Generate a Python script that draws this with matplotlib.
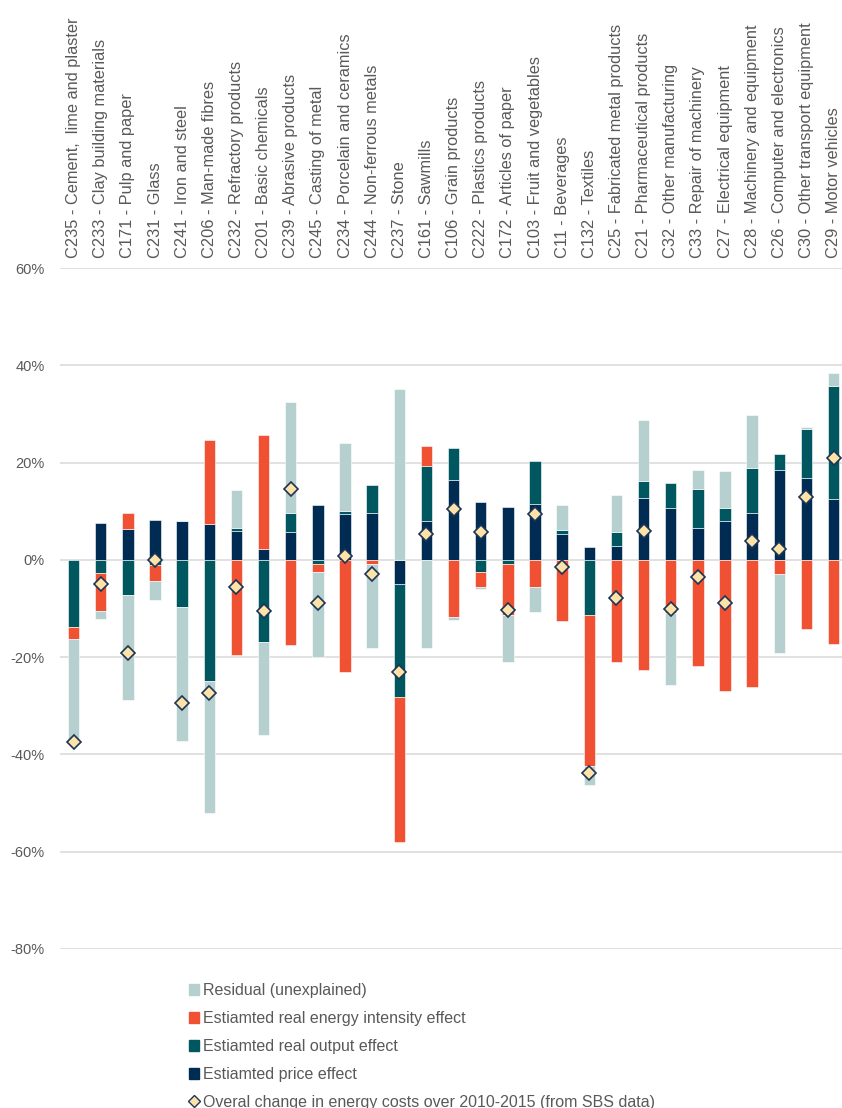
import matplotlib.pyplot as plt
from matplotlib.patches import Patch
from matplotlib.lines import Line2D

# Sectors, ordered from largest fall to largest rise in energy costs
sectors = [
    'C235 - Cement,  lime and plaster', 'C233 - Clay building materials',
    'C171 - Pulp and paper', 'C231 - Glass', 'C241 - Iron and steel',
    'C206 - Man-made fibres', 'C232 - Refractory products',
    'C201 - Basic chemicals', 'C239 - Abrasive products',
    'C245 - Casting of metal', 'C234 - Porcelain and ceramics',
    'C244 - Non-ferrous metals', 'C237 - Stone', 'C161 - Sawmills',
    'C106 - Grain products', 'C222 - Plastics products',
    'C172 - Articles of paper', 'C103 - Fruit and vegetables',
    'C11 - Beverages', 'C132 - Textiles', 'C25 - Fabricated metal products',
    'C21 - Pharmaceutical products', 'C32 - Other manufacturing',
    'C33 - Repair of machinery', 'C27 - Electrical equipment',
    'C28 - Machinery and equipment', 'C26 - Computer and electronics',
    'C30 - Other transport equipment', 'C29 - Motor vehicles',
]

# Decomposition of the change in energy costs (percentage points)
price_effect = [0.0, 7.5, 6.4, 8.2, 8.0, 7.3, 6.0, 2.3, 5.8, 11.2,
                9.4, 9.7, -5.0, 8.0, 16.5, 11.9, 10.9, 11.4, 5.4, 2.6,
                2.9, 12.8, 10.6, 6.6, 7.9, 9.7, 18.4, 16.8, 12.6]
output_effect = [-13.9, -2.7, -7.2, -1.0, -9.6, -25.0, 0.6, -16.9, 3.9, -0.8,
                 0.7, 5.6, -23.2, 11.2, 6.4, -2.5, -0.8, 9.0, 0.8, -11.4,
                 2.9, 3.5, 5.2, 7.9, 2.7, 9.2, 3.3, 10.0, 23.2]
intensity_effect = [-2.4, -7.8, 3.3, -3.3, 0.0, 17.4, -19.6, 23.3, -17.6, -1.7,
                    -23.1, -0.8, -29.8, 4.2, -11.8, -3.0, -10.5, -5.5, -12.6, -31.0,
                    -21.1, -22.6, -11.0, -21.8, -27.0, -26.1, -3.0, -14.3, -17.4]
residual = [-21.2, -1.7, -21.7, -3.9, -27.6, -27.0, 7.7, -19.2, 22.7, -17.4,
            14.0, -17.4, 35.1, -18.2, -0.5, -0.4, -9.8, -5.3, 5.0, -3.9,
            7.6, 12.4, -14.8, 4.0, 7.6, 10.8, -16.2, 0.5, 2.7]
overall_change = [-37.4, -5.0, -19.2, -0.1, -29.4, -27.4, -5.5, -10.6, 14.6, -8.9,
                  0.8, -2.9, -23.1, 5.3, 10.4, 5.8, -10.4, 9.5, -1.5, -43.9,
                  -7.9, 6.0, -10.1, -3.5, -8.9, 3.8, 2.3, 13.0, 21.0]

series = [
    (price_effect, '#002b52', 'Estiamted price effect'),
    (output_effect, '#00575f', 'Estiamted real output effect'),
    (intensity_effect, '#f05133', 'Estiamted real energy intensity effect'),
    (residual, '#b5d0cf', 'Residual (unexplained)'),
]

plt.rcParams['font.family'] = ['Liberation Sans', 'DejaVu Sans']
text_grey = '#595959'

fig = plt.figure(figsize=(8.42, 11.08), dpi=100)
ax = fig.add_axes([60 / 842, (1108 - 949) / 1108, 782 / 842, (949 - 268) / 1108])

x = list(range(len(sectors)))
pos_base = [0.0] * len(sectors)
neg_base = [0.0] * len(sectors)

# Stack positive parts upwards and negative parts downwards, as in Excel
for values, colour, label in series:
    bottoms = []
    for i, v in enumerate(values):
        if v >= 0:
            bottoms.append(pos_base[i])
            pos_base[i] += v
        else:
            bottoms.append(neg_base[i])
            neg_base[i] += v
    ax.bar(x, values, bottom=bottoms, width=0.42, color=colour,
           edgecolor='white', linewidth=0.4, zorder=2)

ax.plot(x, overall_change, linestyle='none', marker='D', markersize=7.5,
        markerfacecolor='#fde3a7', markeredgecolor='#1c3557',
        markeredgewidth=1.2, zorder=3)

ax.set_xlim(-0.5, 28.31)
ax.set_ylim(-80, 60)
ax.set_yticks(range(-80, 61, 20))
ax.set_yticklabels([f'{t}%' for t in range(-80, 61, 20)])
ax.tick_params(axis='y', length=0, pad=11, labelsize=10.5, labelcolor=text_grey)
ax.set_xticks([])
ax.grid(axis='y', color='#d9d9d9', linewidth=1.1, zorder=0)
ax.set_axisbelow(True)
for spine in ax.spines.values():
    spine.set_visible(False)

# Sector names above the plot area
for i, name in enumerate(sectors):
    ax.annotate(name, xy=(i, 60), xytext=(0, 7), textcoords='offset points',
                rotation=90, ha='center', va='bottom', fontsize=11.8,
                color=text_grey, annotation_clip=False)

handles = [Patch(color=c, label=l) for _, c, l in reversed(series)]
handles.append(Line2D([], [], linestyle='none', marker='D', markersize=6,
                      markerfacecolor='#fde3a7', markeredgecolor='#1c3557',
                      markeredgewidth=1.0,
                      label='Overal change in energy costs over 2010-2015 (from SBS data)'))
leg = fig.legend(handles=handles, loc='upper left',
                 bbox_to_anchor=(189 / 842, (1108 - 983) / 1108),
                 frameon=False, fontsize=11.5, labelspacing=0.81,
                 handlelength=0.65, handleheight=0.65, handletextpad=0.25,
                 borderpad=0, borderaxespad=0)
for t in leg.get_texts():
    t.set_color(text_grey)

fig.savefig('out.png', dpi=100)
